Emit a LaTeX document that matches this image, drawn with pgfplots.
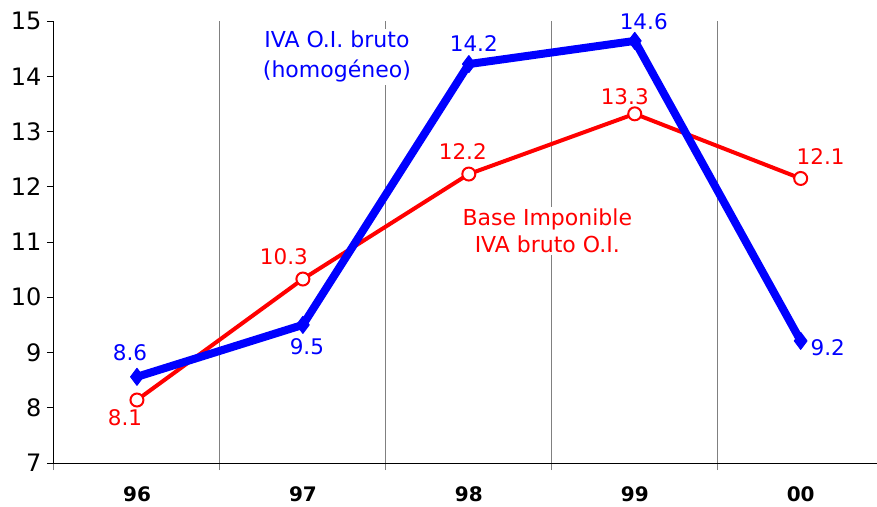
\documentclass[border=0pt]{standalone}
\usepackage{pgfplots}
\pgfplotsset{compat=1.18}
\usepackage{fontspec}
\setmainfont{DejaVu Sans}
\definecolor{bl}{RGB}{0,0,255}
\definecolor{rd}{RGB}{255,0,0}
\begin{document}
\begin{tikzpicture}
\useasboundingbox (-54pt,-43pt) rectangle (823pt,463pt);
\begin{axis}[
  scale only axis, width=823pt, height=442pt,
  at={(0,0)}, anchor=south west,
  xmin=-0.5, xmax=4.46, ymin=7, ymax=15,
  axis x line=bottom, axis y line=left,
  axis line style={-, black, line width=1pt},
  xtick={-0.5,0.5,1.5,2.5,3.5},
  xticklabels={96,97,98,99,00},
  x tick label style={font=\fontsize{20}{23}\selectfont\bfseries, inner sep=0.5pt, xshift=83pt, yshift=-16pt},
  xmajorgrids,
  major x grid style={gray, line width=1pt},
  major x tick style={gray, line width=1pt},
  ytick={7,...,15},
  y tick label style={font=\fontsize{24}{28}\selectfont, xshift=-2pt},
  /pgf/number format/assume math mode=true,
  major y tick style={black, line width=1pt},
  tick align=outside,
  major tick length=7pt,
  clip=false,
]
\addplot[rd, line width=4pt, mark=*, mark size=6.5pt, mark options={fill=white, draw=rd, line width=2pt}]
  coordinates {(0,8.14) (1,10.33) (2,12.23) (3,13.32) (4,12.15)};
\addplot[bl, line width=8pt, line join=round, mark=diamond*, mark size=8.5pt, mark options={fill=bl, draw=bl, line width=1pt}]
  coordinates {(0,8.56) (1,9.50) (2,14.22) (3,14.64) (4,9.21)};

\begin{scope}[every node/.style={font=\fontsize{21.5}{25}\selectfont, inner sep=0pt}]
\node[text=bl] at (axis cs:0,8.56) [xshift=-7pt, yshift=24pt] {8.6};
\node[text=bl] at (axis cs:1,9.50) [xshift=4pt, yshift=-22pt] {9.5};
\node[text=bl] at (axis cs:2,14.22) [xshift=5pt, yshift=21pt] {14.2};
\node[text=bl] at (axis cs:3,14.64) [xshift=9pt, yshift=19pt] {14.6};
\node[text=bl] at (axis cs:4,9.21) [xshift=27pt, yshift=-7pt] {9.2};
\node[text=rd] at (axis cs:0,8.14) [xshift=-12pt, yshift=-18pt] {8.1};
\node[text=rd] at (axis cs:1,10.33) [xshift=-19pt, yshift=22pt] {10.3};
\node[text=rd] at (axis cs:2,12.23) [xshift=-6pt, yshift=23pt] {12.2};
\node[text=rd] at (axis cs:3,13.32) [xshift=-10pt, yshift=17pt] {13.3};
\node[text=rd] at (axis cs:4,12.15) [xshift=20pt, yshift=22pt] {12.1};
\end{scope}
\node[fill=white, text=bl, align=center, font=\fontsize{22}{30}\selectfont, inner sep=2pt] at (axis cs:1.205,14.35) {IVA O.I. bruto\\(homogéneo)};
\node[fill=white, text=rd, align=center, font=\fontsize{22}{27}\selectfont, inner sep=2pt] at (axis cs:2.473,11.2) {Base Imponible\\IVA bruto O.I.};
\end{axis}
\end{tikzpicture}
\end{document}
